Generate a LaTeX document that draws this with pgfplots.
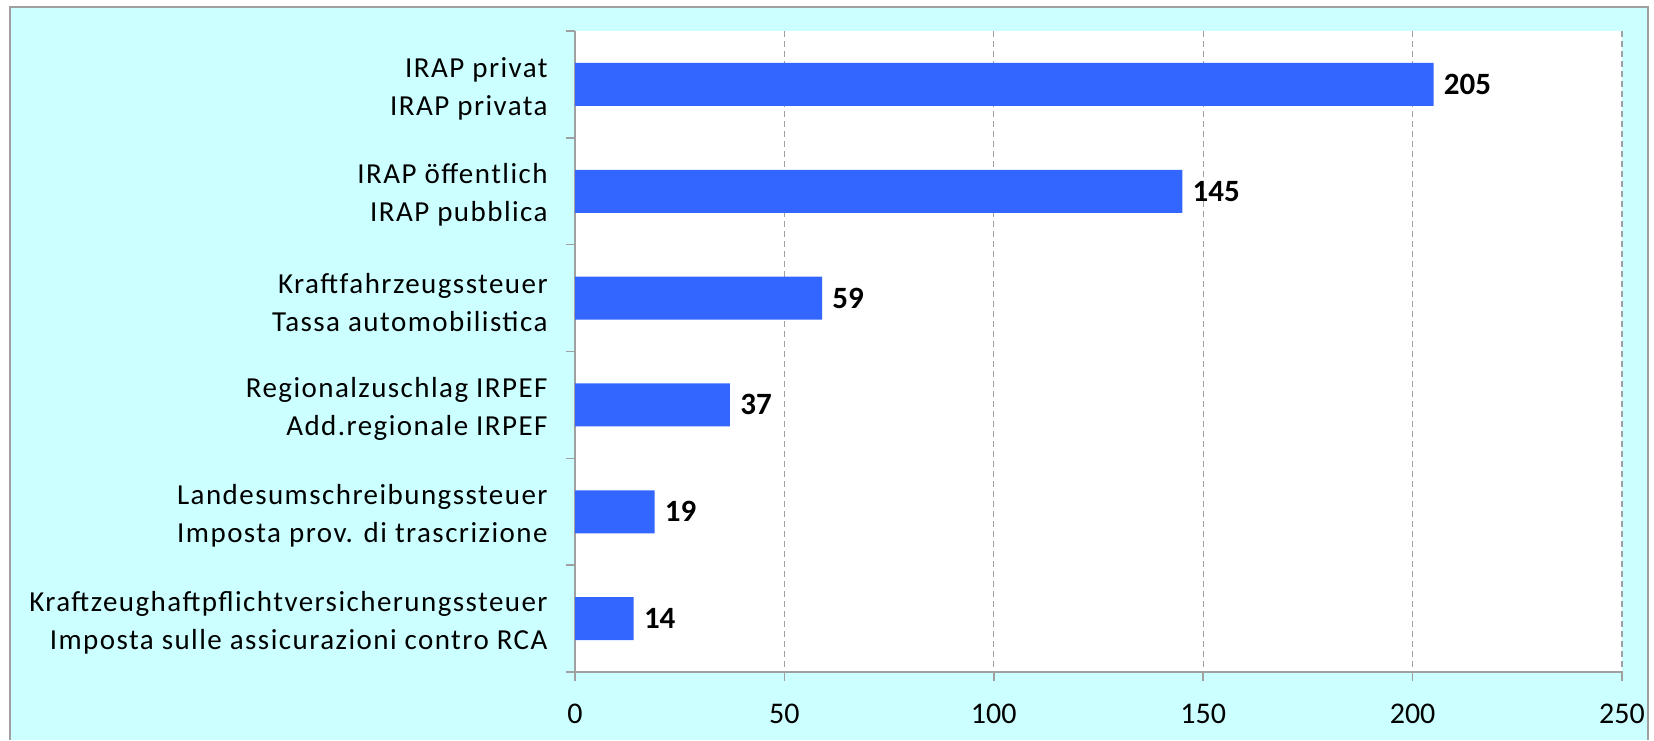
\documentclass[border=0pt]{standalone}
\usepackage{pgfplots}
\pgfplotsset{compat=1.18}
\usepackage{fontspec}
\setmainfont{Carlito}
\newfontfamily\labfont[LetterSpace=5]{Carlito}
\definecolor{bgcyan}{HTML}{CCFFFF}
\definecolor{barblue}{HTML}{3366FF}
\definecolor{axgray}{HTML}{A0A0A0}
\begin{document}
\begin{tikzpicture}[x=1pt,y=1pt]
\useasboundingbox (0,0) rectangle (827,370);
\fill[bgcyan] (5,0) rectangle (824,366.5);
\draw[axgray,line width=1pt] (5,0) -- (5,366.5) -- (824,366.5) -- (824,0);
\begin{axis}[
  at={(287.5pt,34pt)}, anchor=south west,
  scale only axis, width=523.5pt, height=320.5pt,
  axis background/.style={fill=white},
  xbar, bar width=21.5pt,
  xmin=0, xmax=250,
  ymin=-0.5, ymax=5.5, y dir=reverse,
  axis x line*=bottom, axis y line*=left,
  axis line style={axgray, line width=0.8pt},
  tick style={axgray, line width=0.8pt},
  tick align=outside, major tick length=4.5pt,
  xtick={0,50,...,250},
  xmajorgrids,
  grid style={axgray, dash pattern=on 3pt off 2pt, line width=0.6pt},
  ytick={-0.5,0.5,...,5.5},
  y tick label as interval,
  yticklabels={{IRAP privat\\IRAP privata},
               {IRAP öffentlich\\IRAP pubblica},
               {Kraftfahrzeugssteuer\\Tassa automobilistica},
               {Regionalzuschlag IRPEF\\Add.regionale IRPEF},
               {Landesumschreibungssteuer\\Imposta prov. di trascrizione},
               {Kraftzeughaftpflichtversicherungssteuer\\Imposta sulle assicurazioni contro RCA}},
  yticklabel style={align=right, font=\labfont\fontsize{14.5}{19}\selectfont, inner sep=0pt, xshift=-9pt, yshift=-2pt},
  xticklabel style={font=\fontsize{15}{18}\selectfont, yshift=-8pt},
  /pgf/number format/assume math mode=true,
  nodes near coords,
  every node near coord/.append style={font=\fontsize{15.5}{18}\bfseries\selectfont, anchor=west, inner sep=0pt, xshift=5pt, black},
]
\addplot[fill=barblue, draw=none] coordinates {(205,0) (145,1) (59,2) (37,3) (19,4) (14,5)};
\end{axis}
\end{tikzpicture}
\end{document}
